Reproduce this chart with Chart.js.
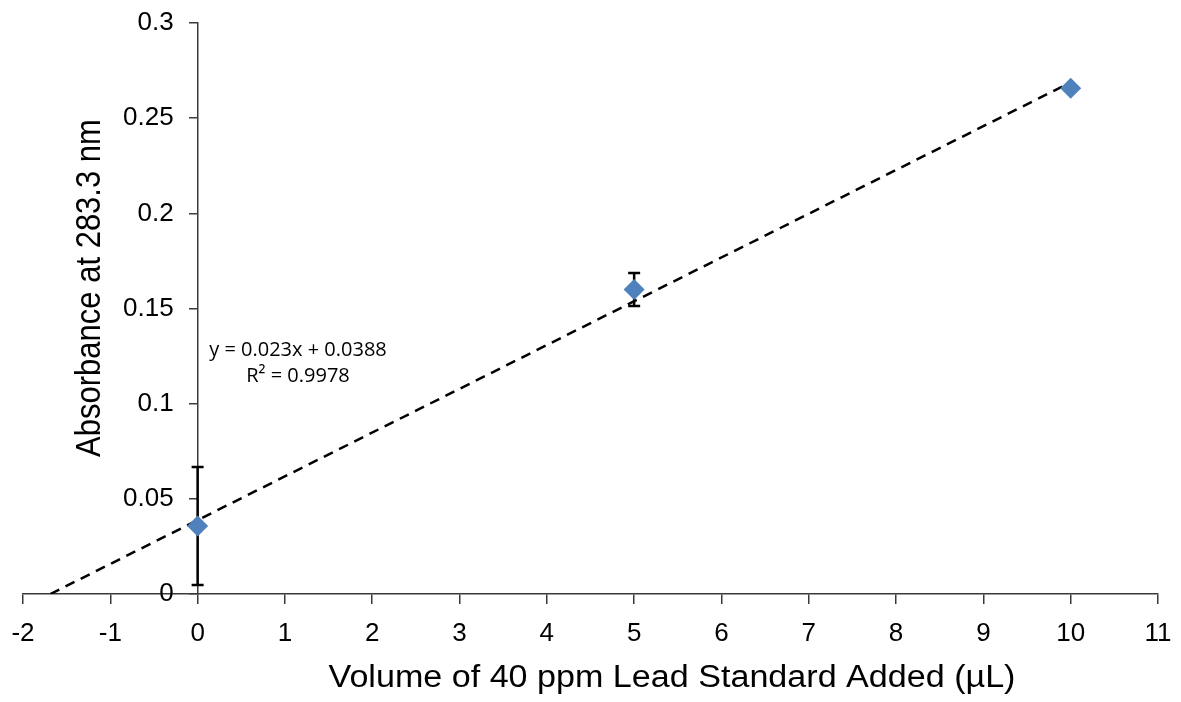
<!DOCTYPE html>
<html>
<head>
<meta charset="utf-8">
<script src="https://cdn.jsdelivr.net/npm/chart.js@4"></script>
<style>
  html, body { margin: 0; padding: 0; background: #fff; }
  #wrap { width: 1181px; height: 702px; }
</style>
</head>
<body>
<div id="wrap"><canvas id="calChart" width="1181" height="702"></canvas></div>
<script>
// measured points (standard addition)
const volumes = [0, 5, 10];
const absorbances = [0.0357, 0.160, 0.2657];
const errors = [0.031, 0.0087, 0];

// linear fit shown on the chart
const slope = 0.023;
const intercept = 0.0388;
const fitLabel = ['y = 0.023x + 0.0388', 'R\u00b2 = 0.9978'];

const xTickLabels = ['-2', '-1', '0', '1', '2', '3', '4', '5', '6', '7', '8', '9', '10', '11'];
const yTickValues = [0, 0.05, 0.1, 0.15, 0.2, 0.25, 0.3];
const yTickLabels = ['0', '0.05', '0.1', '0.15', '0.2', '0.25', '0.3'];

const xTitle = 'Volume of 40 ppm Lead Standard Added (\u00b5L)';
const yTitle = 'Absorbance at 283.3 nm';

const axisColor = '#3a3a3a';
const fontFamily = "'Liberation Sans', Arial, sans-serif";

// trendline runs from the x-intercept to the last standard
const fitStart = -intercept / slope;
const fitEnd = volumes[volumes.length - 1];

const errorBars = {
    id: 'errorBars',
    beforeDatasetsDraw(chart) {
        const { ctx, scales: { x, y } } = chart;
        ctx.save();
        ctx.strokeStyle = '#000';
        ctx.lineWidth = 2.5;
        volumes.forEach((v, i) => {
            if (!errors[i]) return;
            const px = x.getPixelForValue(v);
            const top = y.getPixelForValue(absorbances[i] + errors[i]);
            const bot = y.getPixelForValue(absorbances[i] - errors[i]);
            ctx.beginPath();
            ctx.moveTo(px, top); ctx.lineTo(px, bot);
            ctx.moveTo(px - 6, top); ctx.lineTo(px + 6, top);
            ctx.moveTo(px - 6, bot); ctx.lineTo(px + 6, bot);
            ctx.stroke();
        });
        ctx.restore();
    }
};

// y labels sit left of the crossing axis, chart.js puts them on the line otherwise
const yLabels = {
    id: 'yLabels',
    afterDraw(chart) {
        const { ctx, scales: { x, y } } = chart;
        const axisX = x.getPixelForValue(0);
        ctx.save();
        ctx.fillStyle = '#000';
        ctx.font = '26px ' + fontFamily;
        ctx.textAlign = 'right';
        ctx.textBaseline = 'middle';
        yTickValues.forEach((v, i) => {
            ctx.fillText(yTickLabels[i], axisX - 24, y.getPixelForValue(v));
        });
        ctx.restore();
    }
};

const titles = {
    id: 'titles',
    afterDraw(chart) {
        const { ctx } = chart;
        ctx.save();
        ctx.fillStyle = '#000';
        ctx.textAlign = 'center';
        ctx.textBaseline = 'middle';

        ctx.save();
        ctx.translate(672, 678);
        ctx.scale(1.1, 1);
        ctx.font = '31px ' + fontFamily;
        ctx.fillText(xTitle, 0, 0);
        ctx.restore();

        ctx.save();
        ctx.translate(90, 288);
        ctx.rotate(-Math.PI / 2);
        ctx.scale(1, 1.12);
        ctx.font = '31px ' + fontFamily;
        ctx.fillText(yTitle, 0, 0);
        ctx.restore();

        ctx.font = "20px 'Open Sans', sans-serif";
        ctx.fillText(fitLabel[0], 298, 350);
        ctx.fillText(fitLabel[1], 298, 376);
        ctx.restore();
    }
};

new Chart(document.getElementById('calChart'), {
    type: 'scatter',
    data: {
        datasets: [
            {
                label: 'Standards',
                data: volumes.map((v, i) => ({ x: v, y: absorbances[i] })),
                pointStyle: 'rectRot',
                pointRadius: 10.5,
                backgroundColor: '#4f81bd',
                borderColor: '#4f81bd',
                borderWidth: 0
            },
            {
                label: 'Linear fit',
                type: 'line',
                data: [
                    { x: fitStart, y: slope * fitStart + intercept },
                    { x: fitEnd, y: slope * fitEnd + intercept }
                ],
                borderColor: '#000',
                borderWidth: 2.5,
                borderDash: [10, 7],
                pointRadius: 0,
                fill: false
            }
        ]
    },
    options: {
        responsive: false,
        animation: false,
        layout: { padding: { left: 23, right: 23, top: 23, bottom: 0 } },
        plugins: {
            legend: { display: false },
            tooltip: { enabled: false }
        },
        scales: {
            x: {
                type: 'linear',
                position: 'bottom',
                min: -2,
                max: 11,
                afterFit: (scale) => {
                    scale.height = 108;
                    scale.paddingLeft = 0;
                    scale.paddingRight = 0;
                },
                ticks: {
                    stepSize: 1,
                    color: '#000',
                    font: { family: fontFamily, size: 26 },
                    padding: 14,
                    maxRotation: 0,
                    callback: (v, i) => xTickLabels[i]
                },
                grid: { drawOnChartArea: false, tickLength: 10, color: axisColor, lineWidth: 1.5 },
                border: { color: axisColor, width: 1.5 }
            },
            y: {
                type: 'linear',
                position: { x: 0 },
                min: 0,
                max: 0.3,
                afterFit: (scale) => { scale.width = 0; },
                ticks: { stepSize: 0.05, display: false },
                grid: { drawOnChartArea: false, tickLength: 8, color: axisColor, lineWidth: 1.5 },
                border: { color: axisColor, width: 1.5 }
            }
        }
    },
    plugins: [errorBars, yLabels, titles]
});
</script>
</body>
</html>
